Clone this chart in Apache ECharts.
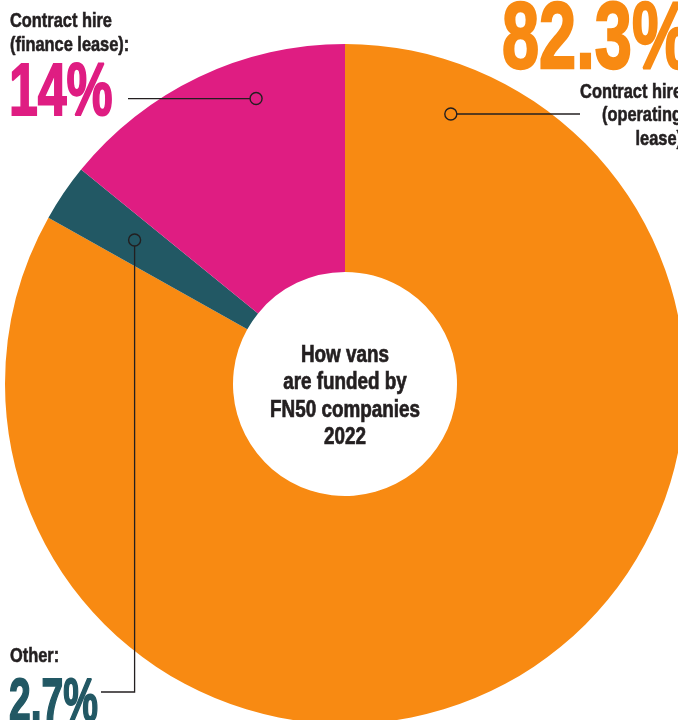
<!DOCTYPE html>
<html>
<head>
<meta charset="utf-8">
<script src="https://cdn.jsdelivr.net/npm/echarts@6/dist/echarts.min.js"></script>
<style>
  html, body { margin: 0; padding: 0; background: #ffffff; }
  #chart { width: 678px; height: 720px; }
</style>
</head>
<body>
<div id="chart"></div>
<script>
// How vans are funded by FN50 companies, 2022 (share of fleet, %)
const categories = ['Contract hire (operating lease)', 'Other', 'Contract hire (finance lease)'];
const shares = [82.3, 2.7, 14];
const colours = ['#F88A12', '#225864', '#DF1D82'];
const labelTitles = ['Contract hire\n(operating\nlease)', 'Other:', 'Contract hire\n(finance lease):'];
const labelValues = ['82.3%', '2.7%', '14%'];

const cx = 345, cy = 384, rOuter = 340, rInner = 112;
const FONT = "'Liberation Sans', Arial, sans-serif";
const DARK = '#231F20';

// angle (degrees clockwise from 12 o'clock) and radius -> pixel point around the pie centre
function polar(deg, r) {
  const a = deg * Math.PI / 180;
  return [cx + r * Math.sin(a), cy - r * Math.cos(a)];
}

const pinkAnchor = polar(-17.3, 299);
const tealAnchor = polar(-55.6, 255);
const orangeAnchor = polar(21.4, 290);

const dot = (p) => ({
  type: 'circle', shape: { cx: p[0], cy: p[1], r: 6 },
  style: { fill: 'none', stroke: DARK, lineWidth: 1.4 }, z: 10
});
const line = (pts) => ({
  type: 'polyline', shape: { points: pts },
  style: { stroke: DARK, lineWidth: 1.3, fill: null }, z: 10
});
// condensed heavy text: a bold face squeezed horizontally, thickened with a same-colour stroke
const txt = (x, y, text, size, color, align, lh, sx, weight) => ({
  type: 'text', x: x, y: y, z: 10, scaleX: sx, scaleY: 1,
  style: {
    text: text, font: 'bold ' + size + 'px ' + FONT, fill: color,
    stroke: color, lineWidth: weight,
    align: align || 'left', verticalAlign: 'top', lineHeight: lh || size
  }
});

const chart = echarts.init(document.getElementById('chart'), null, { renderer: 'canvas' });
chart.setOption({
  backgroundColor: '#ffffff',
  animation: false,
  series: [{
    type: 'pie',
    center: [cx, cy],
    radius: [rInner, rOuter],
    startAngle: 90,
    clockwise: true,
    label: { show: false },
    labelLine: { show: false },
    silent: true,
    itemStyle: { borderWidth: 0 },
    data: categories.map((c, i) => ({ name: c, value: shares[i], itemStyle: { color: colours[i] } }))
  }],
  graphic: [
    // centre title
    txt(cx, 341.5, 'How vans\nare funded by\nFN50 companies\n2022', 23, DARK, 'center', 27.5, 0.82, 0.7),
    // finance lease
    txt(10, 9, labelTitles[2], 21, DARK, 'left', 24, 0.78, 0.6),
    txt(9, 58, labelValues[2], 74, colours[2], 'left', 74, 0.70, 2),
    line([[128, pinkAnchor[1]], [pinkAnchor[0] - 6, pinkAnchor[1]]]),
    dot(pinkAnchor),
    // operating lease
    txt(502, -5, labelValues[0], 94, colours[0], 'left', 94, 0.71, 2.4),
    txt(682, 80, labelTitles[0], 21, DARK, 'right', 23.5, 0.78, 0.6),
    line([[orangeAnchor[0] + 6, orangeAnchor[1]], [580, orangeAnchor[1]]]),
    dot(orangeAnchor),
    // other
    txt(10, 644, labelTitles[1], 21, DARK, 'left', 24, 0.78, 0.6),
    txt(9, 673, labelValues[1], 62, colours[1], 'left', 62, 0.63, 1.8),
    line([[tealAnchor[0], tealAnchor[1] + 6], [tealAnchor[0], 692], [101, 692]]),
    dot(tealAnchor)
  ]
});
</script>
</body>
</html>
